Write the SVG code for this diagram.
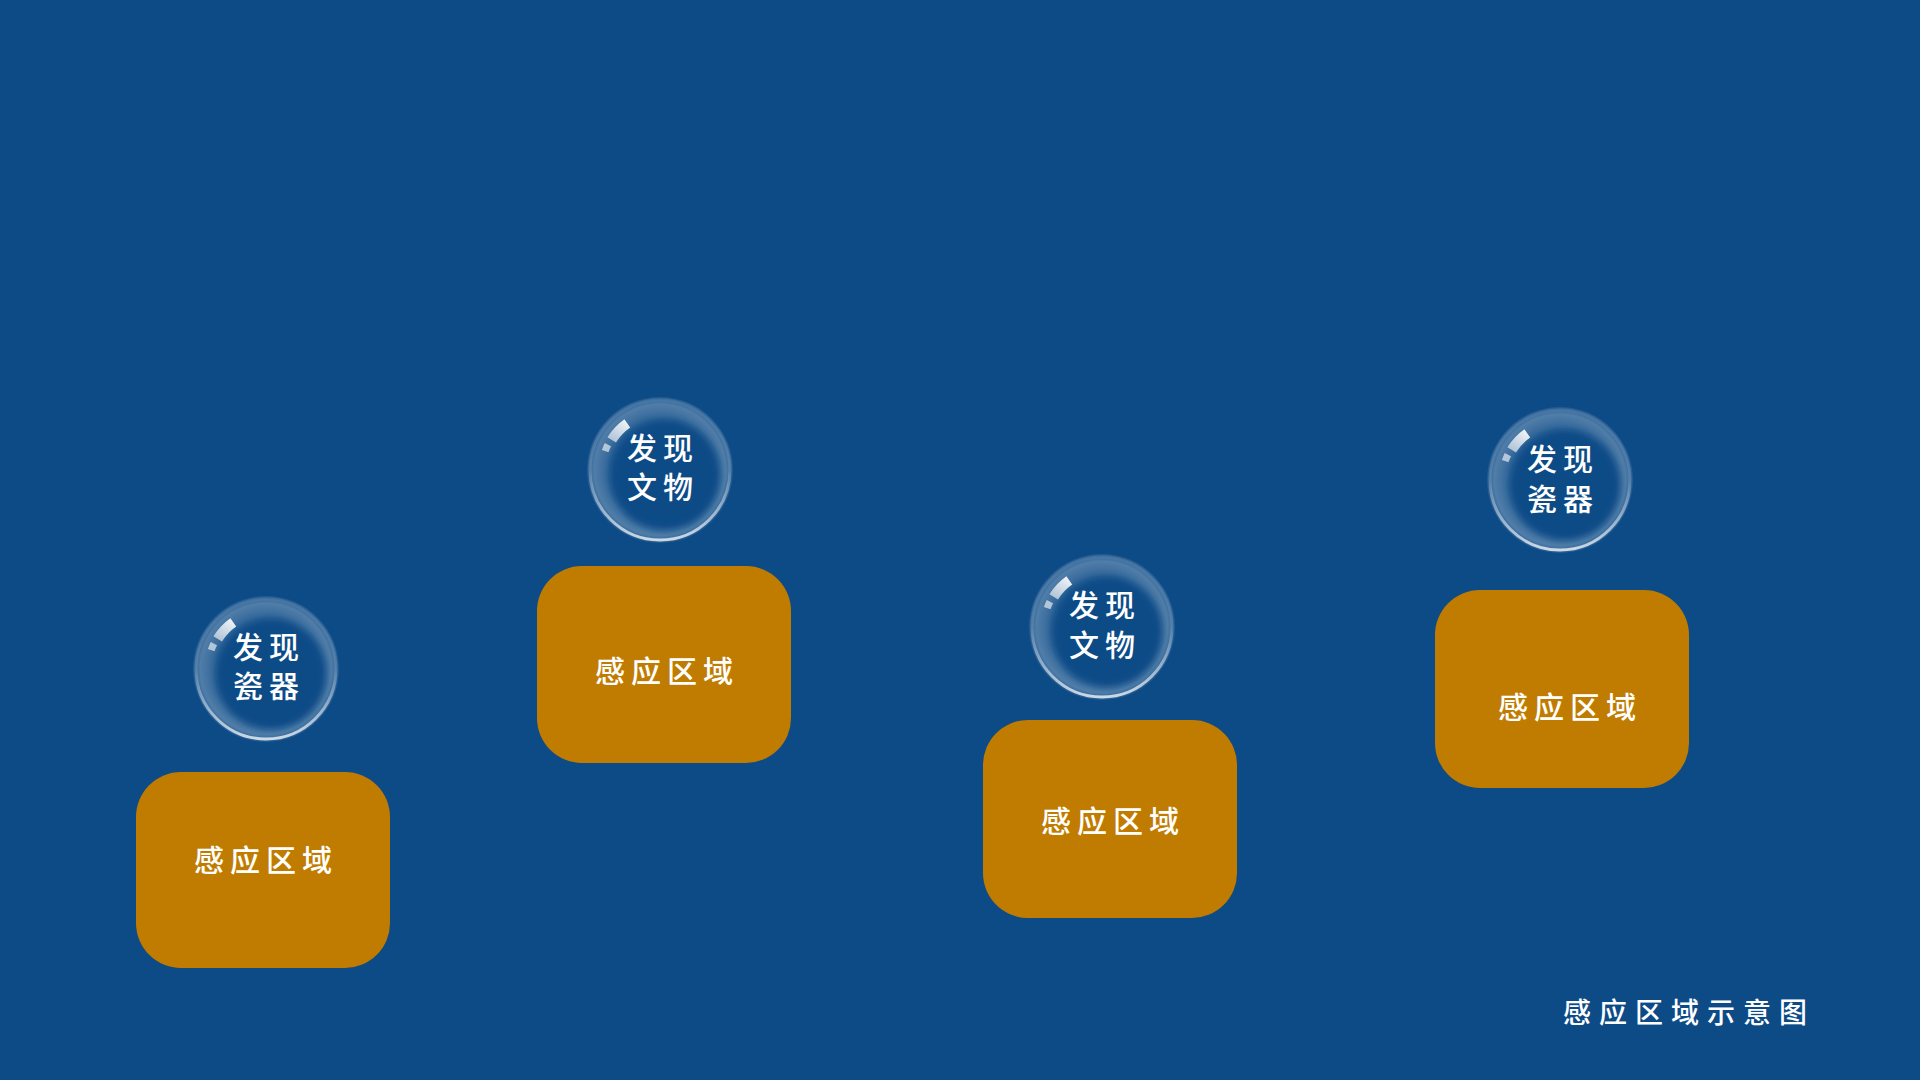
<svg xmlns="http://www.w3.org/2000/svg" width="1920" height="1080" viewBox="0 0 1920 1080">
<defs>
<style>
.box{fill:#C07C00}
.lbl{font-family:"Noto Sans CJK SC","Noto Sans",sans-serif;font-size:30px;font-weight:500;fill:#FFFFFF;letter-spacing:6px;text-anchor:middle}
.btxt{font-family:"Noto Sans CJK SC","Noto Sans",sans-serif;font-size:30px;font-weight:500;fill:#FFFFFF;letter-spacing:6px;text-anchor:middle}
.title{font-family:"Noto Sans CJK SC","Noto Sans",sans-serif;font-size:28px;font-weight:500;fill:#FFFFFF;letter-spacing:8px;text-anchor:middle}
</style>
<radialGradient id="bubOuter" cx="0.5" cy="0.5" r="0.5">
<stop offset="0" stop-color="#FFFFFF" stop-opacity="0"/>
<stop offset="0.65" stop-color="#FFFFFF" stop-opacity="0.12"/>
<stop offset="0.9" stop-color="#FFFFFF" stop-opacity="0.28"/>
<stop offset="1" stop-color="#FFFFFF" stop-opacity="0.08"/>
</radialGradient>
<linearGradient id="rimGrad" x1="0" y1="0" x2="0" y2="1">
<stop offset="0" stop-color="#FFFFFF" stop-opacity="0.08"/>
<stop offset="0.5" stop-color="#FFFFFF" stop-opacity="0.15"/>
<stop offset="1" stop-color="#FFFFFF" stop-opacity="0.75"/>
</linearGradient>
<linearGradient id="glintGrad" x1="0" y1="1" x2="1" y2="0">
<stop offset="0" stop-color="#FFFFFF" stop-opacity="0.6"/>
<stop offset="1" stop-color="#FFFFFF" stop-opacity="0.9"/>
</linearGradient>
<filter id="soft" x="-20%" y="-20%" width="140%" height="140%">
<feGaussianBlur stdDeviation="3"/>
</filter>
<g id="bubble">
<circle r="73" fill="url(#bubOuter)"/>
<circle cx="5" cy="5" r="55" fill="#0D4B87" filter="url(#soft)"/>
<circle cx="0" cy="0" r="70" fill="none" stroke="url(#rimGrad)" stroke-width="3"/>
<path d="M -48.3 -30.2 A 57 57 0 0 1 -32.7 -46.7" fill="none" stroke="url(#glintGrad)" stroke-width="10"/>
<path d="M -54.8 -18.9 A 58 58 0 0 1 -52.1 -25.4" fill="none" stroke="#FFFFFF" stroke-opacity="0.6" stroke-width="7"/>
</g>
</defs>
<rect x="0" y="0" width="1920" height="1080" fill="#0D4B87"/>
<g id="connectors"></g>
<g id="zone1">
<rect class="box" x="136" y="772" width="254" height="196" rx="45" ry="45"/>
<text class="lbl" x="266" y="871">感应区域</text>
</g>
<g id="bubble1">
<use href="#bubble" x="266" y="669"/>
<text class="btxt" x="269" y="658">发现<tspan x="269" y="697">瓷器</tspan></text>
</g>
<g id="zone2">
<rect class="box" x="537" y="566" width="254" height="197" rx="45" ry="45"/>
<text class="lbl" x="667" y="682">感应区域</text>
</g>
<g id="bubble2">
<use href="#bubble" x="660" y="470"/>
<text class="btxt" x="663" y="459">发现<tspan x="663" y="498">文物</tspan></text>
</g>
<g id="zone3">
<rect class="box" x="983" y="720" width="254" height="198" rx="45" ry="45"/>
<text class="lbl" x="1113" y="832">感应区域</text>
</g>
<g id="bubble3">
<use href="#bubble" x="1102" y="627"/>
<text class="btxt" x="1105" y="616">发现<tspan x="1105" y="656">文物</tspan></text>
</g>
<g id="zone4">
<rect class="box" x="1435" y="590" width="254" height="198" rx="45" ry="45"/>
<text class="lbl" x="1570" y="718">感应区域</text>
</g>
<g id="bubble4">
<use href="#bubble" x="1560" y="480"/>
<text class="btxt" x="1563" y="470">发现<tspan x="1563" y="510">瓷器</tspan></text>
</g>
<text id="caption" class="title" x="1689" y="1023">感应区域示意图</text>
</svg>
